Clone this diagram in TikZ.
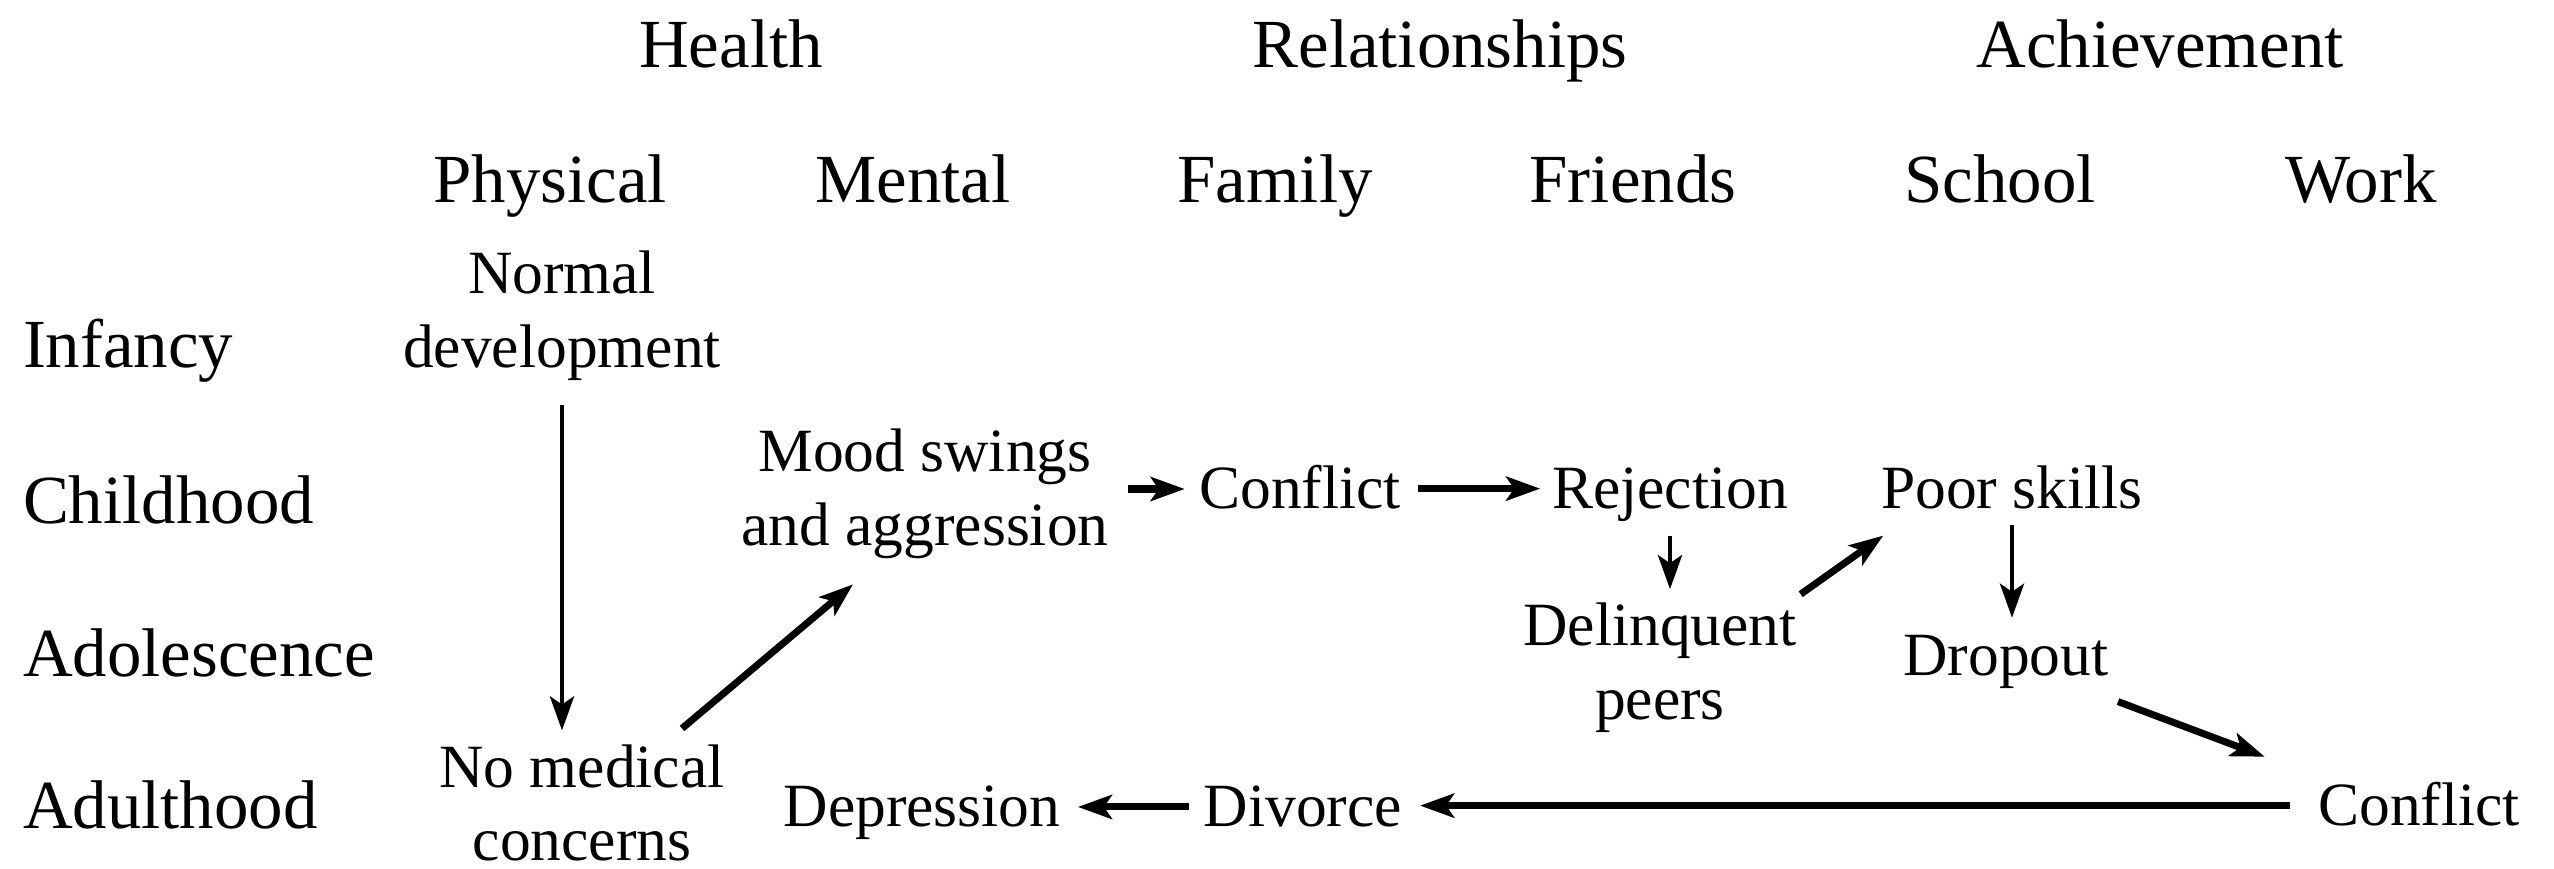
\documentclass[tikz,border=0pt]{standalone}
\usepackage{fontspec}
\setmainfont{Liberation Serif}
\usetikzlibrary{arrows.meta}
\begin{document}
\begin{tikzpicture}[x=1cm,y=1cm,
  every node/.style={inner sep=0pt, outer sep=0pt, font=\fontsize{19.6}{21}\selectfont},
  lbl/.style={anchor=base},
  rowlbl/.style={anchor=base west},
  item/.style={anchor=base, font=\fontsize{17.5}{21}\selectfont},
  two/.style={align=center, anchor=center, font=\fontsize{17.5}{21}\selectfont},
  conn/.style={line width=2pt, -{Stealth[length=0.34cm,width=0.24cm,inset=0.08cm]}},
  thinconn/.style={conn, line width=1.4pt}]
\useasboundingbox (0,0) rectangle (25.54,-8.69);
% column headers
\node[lbl] (health) at (7.31,-0.68) {Health};
\node[lbl] (rel) at (14.40,-0.68) {Relationships};
\node[lbl] (ach) at (21.60,-0.68) {Achievement};
\node[lbl] (phys) at (5.50,-2.03) {Physical};
\node[lbl] (mental) at (9.13,-2.03) {Mental};
\node[lbl] (family) at (12.75,-2.03) {Family};
\node[lbl] (friends) at (16.33,-2.03) {Friends};
\node[lbl] (school) at (20.00,-2.03) {School};
\node[lbl] (work) at (23.61,-2.03) {Work};
% row labels
\node[rowlbl] (infancy) at (0.23,-3.68) {Infancy};
\node[rowlbl] (childhood) at (0.23,-5.23) {Childhood};
\node[rowlbl] (adolescence) at (0.23,-6.76) {Adolescence};
\node[rowlbl] (adulthood) at (0.23,-8.28) {Adulthood};
% content
\node[two] (normal) at (5.62,-3.16) {Normal\\development};
\node[two] (mood) at (9.25,-4.94) {Mood swings\\and aggression};
\node[item] (conf1) at (13.00,-5.08) {Conflict};
\node[item] (rej) at (16.70,-5.08) {Rejection};
\node[item] (poor) at (20.12,-5.08) {Poor skills};
\node[two] (delq) at (16.60,-6.68) {Delinquent\\peers};
\node[item] (drop) at (20.06,-6.75) {Dropout};
\node[two] (nomed) at (5.82,-8.03) {No medical\\concerns};
\node[item] (dep) at (9.22,-8.26) {Depression};
\node[item] (div) at (13.03,-8.26) {Divorce};
\node[item] (conf2) at (24.19,-8.25) {Conflict};
% connectors
\draw[thinconn, shorten <=0.245cm, shorten >=0.14cm] (normal.south) -- (normal.south |- nomed.north);
\draw[conn] ([xshift=1cm,yshift=0.16cm]nomed.north) -- ([xshift=-0.72cm,yshift=-0.255cm]mood.south);
\draw[conn, shorten >=0.145cm] ([xshift=0.19cm,yshift=0.05cm]mood.east) -- ([yshift=0.05cm]mood.east -| conf1.west);
\draw[conn, shorten >=0.12cm] ([xshift=0.175cm,yshift=-0.02cm]conf1.east) -- ([yshift=-0.02cm]conf1.east -| rej.west);
\draw[thinconn, shorten <=0.145cm, shorten >=0.14cm] (rej.south) -- (rej.south |- delq.north);
\draw[conn] ([xshift=0.04cm,yshift=0.09cm]delq.north east) -- ([xshift=0.02cm,yshift=-0.27cm]poor.south west);
\draw[thinconn, shorten <=0.16cm, shorten >=0.17cm] (poor.south) -- (poor.south |- drop.north);
\draw[conn] ([xshift=0.095cm,yshift=-0.135cm]drop.south east) -- ([xshift=-0.535cm,yshift=0.25cm]conf2.north west);
\draw[conn, shorten <=0.285cm, shorten >=0.18cm] ([yshift=-0.02cm]conf2.west) -- ([yshift=-0.02cm]conf2.west -| div.east);
\draw[conn, shorten <=0.15cm, shorten >=0.175cm] ([yshift=-0.01cm]div.west) -- ([yshift=-0.01cm]div.west -| dep.east);
\end{tikzpicture}
\end{document}
